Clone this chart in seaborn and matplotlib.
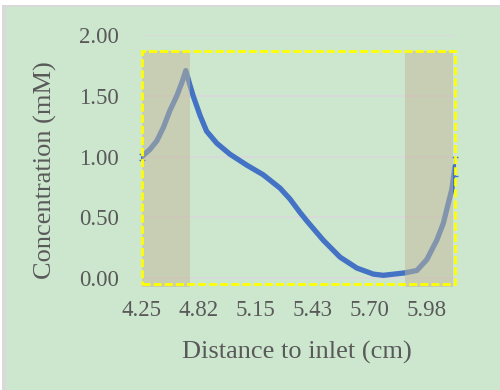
import seaborn as sns
import numpy as np
import pandas as pd
import matplotlib.pyplot as plt
from matplotlib.patches import Rectangle

# category index along the channel (labels every 20 samples)
position = [0, 2.8, 5.2, 7.5, 9.8, 12.2, 14.0, 15.4, 16.6, 18.0, 20.4, 22.7, 26.3,
            30.9, 36.8, 42.6, 48.5, 52.0, 55.5, 57.9, 63.7, 69.6, 75.5, 81.3, 84.8,
            92.4, 96.6, 100.1, 103.6, 105.9, 107.7, 108.9, 109.7, 110]
conc = [1.00, 1.06, 1.13, 1.24, 1.38, 1.50, 1.61, 1.71, 1.61, 1.50, 1.34, 1.21, 1.11,
        1.02, 0.93, 0.85, 0.74, 0.65, 0.54, 0.47, 0.31, 0.17, 0.08, 0.03, 0.02,
        0.04, 0.06, 0.15, 0.31, 0.45, 0.62, 0.73, 0.87, 0.92]
tick_pos = [0, 20, 40, 60, 80, 100]
tick_labels = ["4.25", "4.82", "5.15", "5.43", "5.70", "5.98"]
shade_regions = [(0, 16.9), (92.4, 109.2)]

df = pd.DataFrame({"position": position, "conc": conc})

text_col = "#595959"
bg = "#CDE7CF"

fig = plt.figure(figsize=(5, 3.9), dpi=100)
fig.patch.set_facecolor("white")
fig.patches.append(Rectangle((1.5 / 500, 0), 1, 1 - 5 / 390, transform=fig.transFigure,
                             facecolor="#D9D9D9", edgecolor="none", zorder=-2))
fig.patches.append(Rectangle((6 / 500, 0), 1, 1 - 7 / 390, transform=fig.transFigure,
                             facecolor=bg, edgecolor="none", zorder=-1))

ax = fig.add_axes([0.284, 0.263, 0.626, 0.646])
ax.set_facecolor("none")

sns.lineplot(data=df, x="position", y="conc", ax=ax, color="#4472C4", linewidth=3.8,
             solid_capstyle="round", solid_joinstyle="round", zorder=3)
ax.errorbar([position[0], position[-1]], [conc[0], conc[-1]], yerr=[0.025, 0.08],
            fmt="none", ecolor="#4472C4", elinewidth=1.5, capsize=2, zorder=3, clip_on=False)

for x0, x1 in shade_regions:
    ax.add_patch(Rectangle((x0, -0.075), x1 - x0, 1.945, facecolor="#C3B698", alpha=0.5,
                           edgecolor="none", zorder=4, clip_on=False))

ax.add_patch(Rectangle((0, -0.05), 110, 1.92, facecolor="none", edgecolor="#FFFF00",
                       linewidth=2.0, linestyle=(0, (2.9, 1.1)), zorder=5, clip_on=False))

ax.set_xlim(0, 110)
ax.set_ylim(-0.08, 2.0)
ax.set_yticks([0, 0.5, 1.0, 1.5, 2.0])
ax.set_yticklabels(["0.00", "0.50", "1.00", "1.50", "2.00"])
ax.set_xticks(tick_pos)
ax.set_xticklabels(tick_labels)
ax.grid(axis="y", color="#D9D9D9", linewidth=1.3, zorder=0)
ax.set_axisbelow(True)
for s in ax.spines.values():
    s.set_visible(False)
ax.tick_params(axis="y", length=0, pad=16.5, labelsize=16.5, labelcolor=text_col,
               labelfontfamily="Liberation Serif")
ax.tick_params(axis="x", length=0, pad=9, labelsize=16.5, labelcolor=text_col,
               labelfontfamily="Liberation Serif")

ax.set_xlabel("Distance to inlet (cm)", fontsize=19, color=text_col, family="Liberation Serif")
ax.set_ylabel("Concentration (mM)", fontsize=19, color=text_col, family="Liberation Serif")
ax.xaxis.set_label_coords(0.495, -0.213)
ax.yaxis.set_label_coords(-0.272, 0.466)

plt.savefig("out.png", dpi=100, facecolor=fig.get_facecolor())
